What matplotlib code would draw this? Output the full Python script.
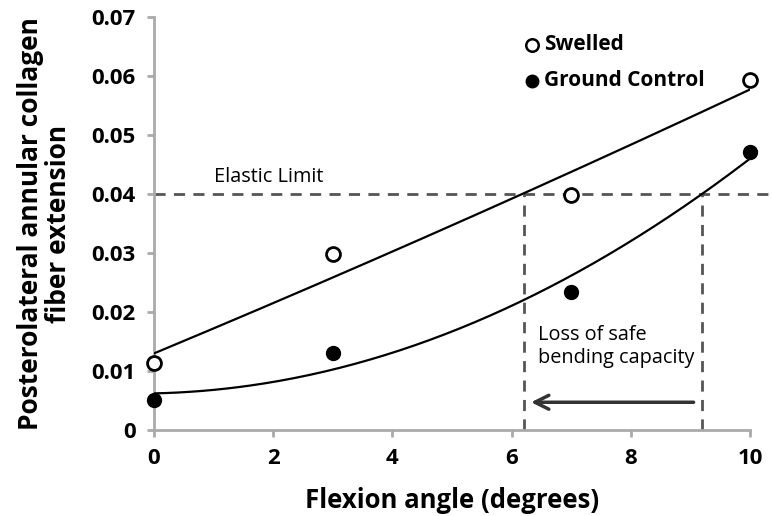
import numpy as np
import matplotlib
matplotlib.use("Agg")
import matplotlib.pyplot as plt

plt.rcParams['font.family'] = ['Open Sans', 'DejaVu Sans']

angles = [0, 3, 7, 10]
swelled = [0.0114, 0.0298, 0.0398, 0.0593]
ground = [0.0051, 0.0130, 0.0234, 0.0471]
elastic_limit = 0.04
cross_swelled = 6.2
cross_ground = 9.2
xticks = [0, 2, 4, 6, 8, 10]
yticks = [0, 0.01, 0.02, 0.03, 0.04, 0.05, 0.06, 0.07]
ytick_labels = ['0', '0.01', '0.02', '0.03', '0.04', '0.05', '0.06', '0.07']

fig = plt.figure(figsize=(7.72, 5.16), dpi=100)
ax = fig.add_axes([0.1995, 0.1667, 0.772, 0.8003])

for s in ['top', 'right']:
    ax.spines[s].set_visible(False)
for s in ['left', 'bottom']:
    ax.spines[s].set_color('#aaaaaa')
    ax.spines[s].set_linewidth(2)

xs = np.linspace(0, 10, 200)
ps = np.polyfit(angles, swelled, 2)
pg = np.polyfit(angles, ground, 2)
ax.plot(xs, np.polyval(ps, xs), color='black', lw=1.6, zorder=3)
ax.plot(xs, np.polyval(pg, xs), color='black', lw=1.6, zorder=3)

ax.plot(angles, swelled, 'o', ms=10, mfc='white', mec='black', mew=2, zorder=4, clip_on=False)
ax.plot(angles, ground, 'o', ms=10, mfc='black', mec='black', zorder=4, clip_on=False)

dash_kw = dict(color='#555555', lw=2, ls=(0, (4, 3)), zorder=2)
ax.plot([0, 10.4], [elastic_limit, elastic_limit], clip_on=False, **dash_kw)
ax.plot([cross_swelled, cross_swelled], [0, elastic_limit], **dash_kw)
ax.plot([cross_ground, cross_ground], [0, elastic_limit], **dash_kw)

ax.annotate('', xy=(6.28, 0.0047), xytext=(9.1, 0.0047),
            arrowprops=dict(arrowstyle='->', color='#333333', lw=2.5, mutation_scale=25))
ax.text(6.45, 0.0141, 'Loss of safe\nbending capacity', fontsize=14.3,
        va='center', ha='left', linespacing=1.2)
ax.text(1.0, 0.0428, 'Elastic Limit', fontsize=14.3, va='center', ha='left')

# legend
ax.plot([6.35], [0.0653], 'o', ms=9, mfc='white', mec='black', mew=1.8)
ax.plot([6.35], [0.0592], 'o', ms=9, mfc='black', mec='black')
ax.text(6.55, 0.0653, 'Swelled', fontsize=15, fontweight='bold', va='center')
ax.text(6.55, 0.0592, 'Ground Control', fontsize=15, fontweight='bold', va='center')

ax.set_xlim(0, 10)
ax.set_ylim(0, 0.07)
ax.tick_params(colors='#aaaaaa', length=5, width=2, labelcolor='black', pad=8)
ax.set_xticks(xticks)
ax.set_xticklabels([str(t) for t in xticks], fontsize=16, fontweight='bold')
ax.set_yticks(yticks)
ax.set_yticklabels(ytick_labels, fontsize=16, fontweight='bold')
ax.set_xlabel('Flexion angle (degrees)', fontsize=18.5, fontweight='bold', labelpad=13)
ax.set_ylabel('Posterolateral annular collagen\nfiber extension', fontsize=19, fontweight='bold',
              labelpad=14, linespacing=1.05)

fig.savefig('out.png', dpi=100)
